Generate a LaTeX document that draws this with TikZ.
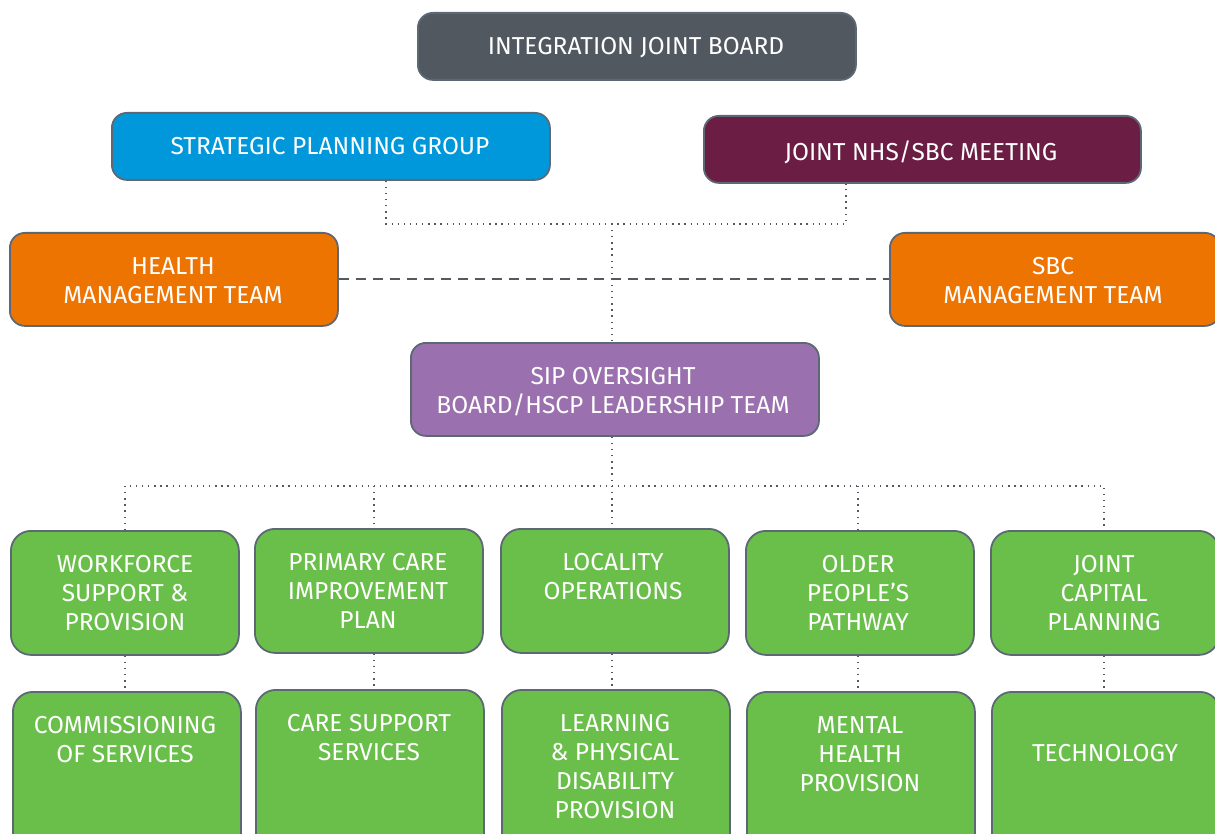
\documentclass[tikz,border=0pt]{standalone}
\usepackage{fontspec}
\setmainfont{Fira Sans}
\definecolor{ijbc}{HTML}{515860}
\definecolor{edgec}{HTML}{5D6875}
\definecolor{bluec}{HTML}{0098DA}
\definecolor{maroonc}{HTML}{6B1D44}
\definecolor{orangec}{HTML}{EE7402}
\definecolor{purplec}{HTML}{9B70AF}
\definecolor{greenc}{HTML}{6ABF4B}
\definecolor{linec}{HTML}{525961}
\begin{document}
\begin{tikzpicture}[x=1pt,y=-1pt,
  boxs/.style={draw=edgec, line width=1.8pt, rounded corners=15pt, inner sep=0pt, anchor=north west},
  gbox/.style={boxs, fill=greenc, rounded corners=20pt, minimum width=228, minimum height=124},
  gbox2/.style={boxs, fill=greenc, rounded corners=20pt, minimum width=228, minimum height=170},
  txt/.style={text=white, align=center, inner sep=0pt, anchor=north, font=\fontsize{24.5}{29}\selectfont},
  dotl/.style={draw=linec, line width=1.3pt, dash pattern=on 1.3pt off 4.8pt},
  dashl/.style={draw=linec, line width=1.8pt, dash pattern=on 10pt off 7pt}]
\useasboundingbox (0,0) rectangle (1215,834);
\clip (0,0) rectangle (1215,834);
% top boxes
\node[boxs, fill=ijbc, minimum width=438, minimum height=67] (ijb) at (417,12) {};
\node[txt] (ijbt) at (636,37.5) {INTEGRATION JOINT BOARD};
\node[boxs, fill=bluec, minimum width=438, minimum height=67] (spg) at (111,112) {};
\node[txt] (spgt) at (330,137.5) {STRATEGIC PLANNING GROUP};
\node[boxs, fill=maroonc, minimum width=437, minimum height=67] (jn) at (703,115) {};
\node[txt] (jnt) at (921,140.5) {JOINT NHS/SBC MEETING};
\node[boxs, fill=orangec, minimum width=328, minimum height=93] (hmt) at (9,232) {};
\node[txt] (hmtt) at (173,257.5) {HEALTH\\MANAGEMENT TEAM};
\node[boxs, fill=orangec, minimum width=330, minimum height=93] (sbc) at (889,232) {};
\node[txt] (sbct) at (1053,257.5) {SBC\\MANAGEMENT TEAM};
\node[boxs, fill=purplec, minimum width=408, minimum height=93] (sip) at (410,342) {};
\node[txt] (sipt) at (613,367.5) {SIP OVERSIGHT\\BOARD/HSCP LEADERSHIP TEAM};
% green row 1
\node[gbox] (a1) at (10,530) {};
\node[txt] (a1t) at (125,555.5) {WORKFORCE\\SUPPORT \&\\PROVISION};
\node[gbox] (a2) at (254,528) {};
\node[txt] (a2t) at (368,553.5) {PRIMARY CARE\\IMPROVEMENT\\PLAN};
\node[gbox] (a3) at (500,528) {};
\node[txt] (a3t) at (613,553.5) {LOCALITY\\OPERATIONS};
\node[gbox] (a4) at (745,530) {};
\node[txt] (a4t) at (858,555.5) {OLDER\\PEOPLE'S\\PATHWAY};
\node[gbox] (a5) at (990,530) {};
\node[txt] (a5t) at (1104,555.5) {JOINT\\CAPITAL\\PLANNING};
% green row 2
\node[gbox2] (b1) at (12,691) {};
\node[txt] (b1t) at (125,716.5) {COMMISSIONING\\OF SERVICES};
\node[gbox2] (b2) at (255,689) {};
\node[txt] (b2t) at (369,714.5) {CARE SUPPORT\\SERVICES};
\node[gbox2] (b3) at (501,689) {};
\node[txt] (b3t) at (615,714.5) {LEARNING\\\& PHYSICAL\\DISABILITY\\PROVISION};
\node[gbox2] (b4) at (746,691) {};
\node[txt] (b4t) at (860,716.5) {MENTAL\\HEALTH\\PROVISION};
\node[gbox2] (b5) at (991,691) {};
\node[txt] (b5t) at (1105,744.5) {TECHNOLOGY};
% connectors top
\coordinate (c1) at (386,224);
\coordinate (c2) at (846,224);
\coordinate (c3) at (612,224);
\draw[dotl] (spg.south -| c1) -- (c1) -- (c2) -- (jn.south -| c2);
\draw[dotl] (c3) -- (sip.north -| c3);
\draw[dashl] (hmt.east) -- (sbc.west);
% connectors to row 1
\coordinate (h0) at (612,486);
\coordinate (h1) at (125,486);
\coordinate (h2) at (374,486);
\coordinate (h4) at (858,486);
\coordinate (h5) at (1104,486);
\draw[dotl] (sip.south -| h0) -- (h0);
\draw[dotl] (a1.north -| h1) -- (h1) -- (h5) -- (a5.north -| h5);
\draw[dotl] (h2) -- (a2.north -| h2);
\draw[dotl] (h0) -- (a3.north -| h0);
\draw[dotl] (h4) -- (a4.north -| h4);
% row1 to row2
\draw[dotl] (a1.south -| h1) -- (b1.north -| h1);
\draw[dotl] (a2.south -| h2) -- (b2.north -| h2);
\draw[dotl] (a3.south -| h0) -- (b3.north -| h0);
\draw[dotl] (a4.south -| h4) -- (b4.north -| h4);
\draw[dotl] (a5.south -| h5) -- (b5.north -| h5);
\end{tikzpicture}
\end{document}
